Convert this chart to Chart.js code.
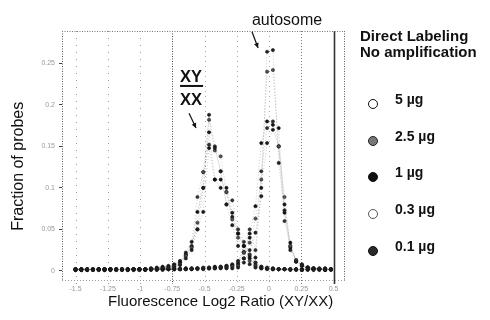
<!DOCTYPE html>
<html><head><meta charset="utf-8">
<script src="https://cdn.jsdelivr.net/npm/chart.js@4/dist/chart.umd.min.js"></script>
<style>
html,body{margin:0;padding:0;background:#fff;width:490px;height:320px;overflow:hidden;font-family:Arial,"Liberation Sans",sans-serif}
#wrap{position:absolute;left:0;top:0;width:490px;height:320px}
.lt{position:absolute;left:360px;font-weight:bold;font-size:15px;color:#111;white-space:nowrap;line-height:15px}
.mk{position:absolute;width:10px;height:10px;border-radius:50%;box-sizing:border-box}
.lb{position:absolute;left:395px;font-weight:bold;font-size:14px;color:#111;white-space:nowrap;line-height:14px}
</style></head>
<body>
<div id="wrap"><canvas id="c" width="490" height="320"></canvas></div>
<div id="legend"></div>
<script>
// ---- data ----
const xBins = [-1.5,-1.455,-1.41,-1.365,-1.32,-1.275,-1.23,-1.185,-1.14,-1.095,-1.05,-1.005,-0.96,-0.915,-0.87,-0.825,-0.78,-0.735,-0.69,-0.645,-0.6,-0.555,-0.51,-0.465,-0.42,-0.375,-0.33,-0.285,-0.24,-0.195,-0.15,-0.105,-0.06,-0.015,0.03,0.075,0.12,0.165,0.21,0.255,0.3,0.345,0.39,0.435,0.48];
const amounts = ['5 µg','2.5 µg','1 µg','0.3 µg','0.1 µg'];
const xTickValues = [-1.5,-1.25,-1,-0.75,-0.5,-0.25,0,0.25,0.5];
const yTickValues = [0,0.05,0.1,0.15,0.2,0.25];
const xTitle = 'Fluorescence Log2 Ratio (XY/XX)';
const yTitle = 'Fraction of probes';
const legendTitle = ['Direct Labeling', 'No amplification'];

// X-chromosome probes (XY/XX peak)
const xChr5   = [.002,.001,.002,.001,.002,.002,.001,.002,.002,.001,.002,.002,.002,.003,.003,.003,.003,.004,.007,.015,.025,.05,.10,.188,.148,.12,.08,.055,.03,.015,.008,.004,.003,.002,.002,.002,.002,.001,.002,.001,.002,.001,.002,.001,.002];
const xChr2_5 = [.001,.002,.002,.002,.001,.002,.002,.002,.001,.002,.002,.001,.002,.002,.002,.003,.004,.005,.008,.018,.028,.058,.119,.182,.145,.138,.095,.062,.04,.022,.012,.006,.003,.003,.002,.002,.002,.002,.002,.001,.002,.002,.001,.002,.002];
const xChr1   = [.002,.002,.001,.002,.002,.001,.002,.002,.002,.002,.001,.002,.002,.003,.003,.004,.005,.006,.01,.019,.029,.071,.10,.167,.11,.11,.10,.07,.045,.03,.015,.007,.004,.003,.002,.002,.002,.002,.001,.002,.002,.002,.002,.001,.002];
const xChr0_3 = [.001,.002,.002,.001,.002,.002,.002,.001,.002,.002,.002,.002,.001,.002,.003,.004,.005,.007,.011,.02,.03,.089,.119,.152,.15,.12,.08,.085,.05,.035,.02,.01,.005,.003,.003,.002,.002,.002,.002,.002,.001,.002,.002,.002,.001];
const xChr0_1 = [.002,.001,.002,.002,.002,.001,.002,.002,.002,.001,.002,.002,.002,.002,.004,.005,.006,.008,.012,.022,.035,.05,.071,.148,.11,.10,.095,.065,.045,.03,.018,.01,.005,.004,.003,.002,.002,.002,.002,.001,.002,.002,.002,.001,.002];
// autosome probes
const auto5   = [.001,.002,.001,.002,.002,.001,.002,.002,.001,.002,.002,.002,.001,.002,.002,.002,.002,.002,.002,.002,.002,.003,.002,.003,.003,.003,.003,.003,.004,.01,.025,.046,.09,.264,.266,.13,.073,.025,.011,.006,.004,.003,.002,.002,.002];
const auto2_5 = [.002,.001,.002,.002,.001,.002,.002,.001,.002,.002,.001,.002,.002,.002,.002,.001,.002,.002,.002,.002,.003,.002,.003,.003,.003,.004,.004,.005,.006,.015,.034,.063,.11,.24,.242,.15,.089,.03,.013,.007,.004,.003,.003,.002,.002];
const auto1   = [.002,.002,.001,.002,.002,.002,.001,.002,.002,.002,.002,.001,.002,.002,.002,.002,.002,.002,.002,.003,.002,.003,.003,.003,.004,.004,.005,.006,.008,.022,.045,.078,.154,.18,.176,.172,.07,.034,.012,.007,.004,.003,.002,.003,.002];
const auto0_3 = [.001,.002,.002,.002,.001,.002,.002,.002,.002,.001,.002,.002,.002,.001,.002,.002,.002,.002,.003,.002,.003,.003,.003,.004,.004,.005,.006,.007,.01,.03,.05,.025,.12,.172,.18,.15,.06,.03,.011,.006,.004,.003,.003,.002,.002];
const auto0_1 = [.002,.001,.002,.001,.002,.002,.002,.001,.002,.002,.002,.002,.002,.002,.001,.002,.002,.003,.002,.003,.003,.003,.004,.004,.005,.005,.006,.008,.012,.023,.04,.016,.10,.154,.17,.15,.08,.028,.013,.008,.004,.003,.002,.003,.002];

const xChrSeries = [xChr5, xChr2_5, xChr1, xChr0_3, xChr0_1];
const autoSeries = [auto5, auto2_5, auto1, auto0_3, auto0_1];

// ---- styles ----
const markerStyles = [
  {fill:'#fff', border:'#111', bw:1.3},
  {fill:'#777', border:'#222', bw:1.8},
  {fill:'#111', border:'#111', bw:1},
  {fill:'#fff', border:'#555', bw:1.2},
  {fill:'#2a2a2a', border:'#111', bw:1}
];
const plotPoint = [
  {bg:'#222', bc:'#111'},
  {bg:'#555', bc:'#222'},
  {bg:'#111', bc:'#111'},
  {bg:'#333', bc:'#222'},
  {bg:'#1a1a1a', bc:'#111'}
];

const datasets = [];
amounts.forEach((lab, i) => {
  [xChrSeries[i], autoSeries[i]].forEach((arr, j) => {
    datasets.push({
      label: lab + (j === 0 ? ' (X)' : ' (autosome)'),
      data: xBins.map((xv, k) => ({x: xv, y: arr[k]})),
      showLine: true,
      borderColor: 'rgba(0,0,0,0.3)',
      borderWidth: 0.7,
      borderDash: [1, 2],
      pointRadius: 1.6,
      pointBorderWidth: 0.6,
      pointBackgroundColor: plotPoint[i].bg,
      pointBorderColor: plotPoint[i].bc,
      tension: 0
    });
  });
});

const framePlugin = {
  id: 'frame',
  beforeDatasetsDraw(chart) {
    const {ctx, chartArea: a, scales: {x}} = chart;
    ctx.save();
    xTickValues.forEach(v => {
      const px = Math.round(x.getPixelForValue(v)) + 0.5;
      let color = '#aaa', dash = [1, 4], w = 1;
      if (v === -0.75) { color = '#444'; dash = [1, 1.5]; }
      else if (v === 0.5) { color = '#333'; dash = []; w = 1.6; }
      else if (v === 0.25) { color = '#777'; dash = [1, 2]; }
      else if (v <= -1) { color = '#999'; dash = [1, 6]; }
      ctx.strokeStyle = color; ctx.lineWidth = w; ctx.setLineDash(dash);
      ctx.beginPath(); ctx.moveTo(px, a.top); ctx.lineTo(px, a.bottom + 4); ctx.stroke();
    });
    ctx.lineWidth = 1;
    ctx.strokeStyle = '#555'; ctx.setLineDash([1, 1.5]);
    ctx.beginPath(); ctx.moveTo(a.left + 0.5, a.top); ctx.lineTo(a.left + 0.5, a.bottom); ctx.stroke();
    ctx.beginPath(); ctx.moveTo(a.right - 0.5, a.top); ctx.lineTo(a.right - 0.5, a.bottom); ctx.stroke();
    ctx.strokeStyle = '#777';
    ctx.beginPath(); ctx.moveTo(a.left, a.top + 0.5); ctx.lineTo(a.right, a.top + 0.5); ctx.stroke();
    ctx.strokeStyle = '#999'; ctx.setLineDash([1, 2]);
    ctx.beginPath(); ctx.moveTo(a.left, a.bottom + 0.5); ctx.lineTo(a.right, a.bottom + 0.5); ctx.stroke();
    ctx.restore();
  }
};

function arrow(ctx, x1, y1, x2, y2) {
  ctx.beginPath(); ctx.moveTo(x1, y1); ctx.lineTo(x2, y2); ctx.stroke();
  const ang = Math.atan2(y2 - y1, x2 - x1), s = 5.5;
  ctx.beginPath();
  ctx.moveTo(x2, y2);
  ctx.lineTo(x2 - s * Math.cos(ang - 0.45), y2 - s * Math.sin(ang - 0.45));
  ctx.lineTo(x2 - s * Math.cos(ang + 0.45), y2 - s * Math.sin(ang + 0.45));
  ctx.closePath(); ctx.fill();
}

const annotPlugin = {
  id: 'annot',
  afterDraw(chart) {
    const {ctx, chartArea: a, scales: {x, y}} = chart;
    const X = v => x.getPixelForValue(v), Y = v => y.getPixelForValue(v);
    ctx.save();
    ctx.fillStyle = '#111'; ctx.strokeStyle = '#111'; ctx.lineWidth = 1.2;
    // axis titles
    ctx.font = '15px Arial, "Liberation Sans", sans-serif';
    ctx.textAlign = 'center'; ctx.textBaseline = 'middle';
    ctx.fillText(xTitle, X(-0.375), 302);
    ctx.save();
    ctx.translate(19, Y(0.126));
    ctx.rotate(-Math.PI / 2);
    ctx.font = '16px Arial, "Liberation Sans", sans-serif';
    ctx.fillText(yTitle, 0, 0);
    ctx.restore();
    // annotations
    ctx.textBaseline = 'alphabetic';
    ctx.font = '16px Arial, "Liberation Sans", sans-serif';
    ctx.fillText('autosome', X(0.14), Y(0.296));
    arrow(ctx, X(-0.132), Y(0.288), X(-0.085), Y(0.2685));
    ctx.font = 'bold 16.5px Arial, "Liberation Sans", sans-serif';
    ctx.textAlign = 'left';
    const xl = X(-0.69);
    ctx.fillText('XY', xl, Y(0.2276));
    const wXY = ctx.measureText('XY').width;
    ctx.fillRect(xl, Y(0.2276) + 3, wXY + 1, 2);
    ctx.fillText('XX', xl, Y(0.1998));
    arrow(ctx, X(-0.62), Y(0.19), X(-0.566), Y(0.172));
    ctx.restore();
  }
};

new Chart(document.getElementById('c'), {
  type: 'scatter',
  data: {datasets},
  options: {
    responsive: false,
    animation: false,
    layout: {padding: {left: 0, top: 31, right: 145, bottom: 0}},
    plugins: {legend: {display: false}, tooltip: {enabled: false}},
    scales: {
      x: {
        type: 'linear', min: -1.605, max: 0.589,
        afterBuildTicks: s => { s.ticks = xTickValues.map(v => ({value: v})); },
        afterFit: s => { s.height = 40; },
        grid: {display: false, drawTicks: false},
        border: {display: false},
        ticks: {font: {size: 7, family: 'Arial'}, color: '#999', padding: 5, maxRotation: 0,
                callback: v => String(v)},
        title: {display: false}
      },
      y: {
        type: 'linear', min: -0.011, max: 0.289,
        afterBuildTicks: s => { s.ticks = yTickValues.map(v => ({value: v})); },
        afterFit: s => { s.width = 62; },
        grid: {display: true, color: 'rgba(0,0,0,0)', drawTicks: true, tickLength: 3, tickColor: '#444'},
        border: {display: false},
        ticks: {font: {size: 7, family: 'Arial'}, color: '#999', padding: 4,
                callback: v => String(v)},
        title: {display: false}
      }
    }
  },
  plugins: [framePlugin, annotPlugin]
});

// ---- legend (built from the series labels) ----
const leg = document.getElementById('legend');
legendTitle.forEach((t, i) => {
  const d = document.createElement('div'); d.className = 'lt';
  d.style.top = (28 + i * 16) + 'px'; d.textContent = t; leg.appendChild(d);
});
amounts.forEach((lab, i) => {
  const cy = 104 + i * 36.7;
  const m = document.createElement('div'); m.className = 'mk';
  m.style.left = (373 - 5) + 'px'; m.style.top = (cy - 5) + 'px';
  m.style.background = markerStyles[i].fill;
  m.style.border = markerStyles[i].bw + 'px solid ' + markerStyles[i].border;
  leg.appendChild(m);
  const l = document.createElement('div'); l.className = 'lb';
  l.style.top = (cy - 12) + 'px'; l.textContent = lab; leg.appendChild(l);
});
</script>
</body></html>
